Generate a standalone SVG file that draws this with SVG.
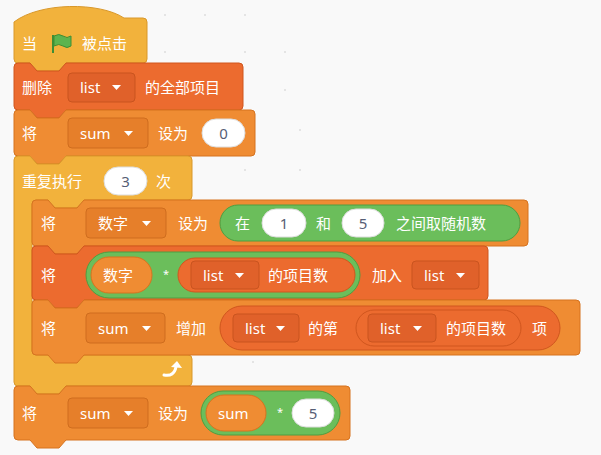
<svg xmlns="http://www.w3.org/2000/svg" width="601" height="455" viewBox="0 0 601 455">
<style>
text{font-family:"Noto Sans","Noto Sans CJK SC",sans-serif;font-size:15px;fill:#fff;dominant-baseline:central}
.ctl{fill:#F2B23C;stroke:#D9982A;stroke-width:1}
.lst{fill:#EC6B2F;stroke:#D0561E;stroke-width:1}
.var{fill:#EF8C33;stroke:#D6731F;stroke-width:1}
.op{fill:#6BBE5B;stroke:#4E9E42;stroke-width:1}
.ddl{fill:#E0612A;stroke:#C9541F}
.ddv{fill:#E67F2A;stroke:#CF6D1E}
.wh{fill:#fff;stroke:#ddd}
.num{fill:#575E75;text-anchor:middle}
.dot{fill:#ddd}
</style>
<defs><path id="tri" d="M0,0 h9 l-4.5,5 z" fill="#fff"/></defs>
<rect width="601" height="455" fill="#F9F9F9"/>
<g id="dots" class="dot"><circle cx="165" cy="15" r="1"/><circle cx="205" cy="15" r="1"/><circle cx="245" cy="15" r="1"/><circle cx="165" cy="52" r="1"/><circle cx="245" cy="52" r="1"/><circle cx="285" cy="52" r="1"/><circle cx="285" cy="90" r="1"/><circle cx="300" cy="130" r="1"/><circle cx="245" cy="170" r="1"/><circle cx="300" cy="170" r="1"/><circle cx="253" cy="362" r="1"/></g>
<g id="connectors"></g>
<g id="hat">
<path class="ctl" d="M14,22 C40,2 100,2 124,18 H143 a4,4 0 0 1 4,4 V59 a4,4 0 0 1 -4,4 H66 l-7,8 h-22 l-7,-8 H18 a4,4 0 0 1 -4,-4 Z"/>
<text x="22" y="43">当</text>
<path d="M53,35 v18" stroke="#3E8E34" stroke-width="2"/>
<path d="M54,36 q5,-3 9,0 t8,0 v10 q-4,3 -8,0 t-9,0 z" fill="#5DB44E" stroke="#3E8E34"/>
<text x="82" y="43">被点击</text>
</g>
<g id="delete">
<path class="lst" d="M14,67 a4,4 0 0 1 4,-4 H30 l7,8 h22 l7,-8 H239 a4,4 0 0 1 4,4 V106 a4,4 0 0 1 -4,4 H66 l-7,8 h-22 l-7,-8 H18 a4,4 0 0 1 -4,-4 Z"/>
<text x="22" y="87">删除</text>
<rect class="ddl" x="68" y="73" width="67" height="29" rx="4"/>
<text x="80" y="87">list</text><use href="#tri" x="112" y="85"/>
<text x="145" y="87">的全部项目</text>
</g>
<g id="setsum">
<path class="var" d="M14,114 a4,4 0 0 1 4,-4 H30 l7,8 h22 l7,-8 H251 a4,4 0 0 1 4,4 V152 a4,4 0 0 1 -4,4 H66 l-7,8 h-22 l-7,-8 H18 a4,4 0 0 1 -4,-4 Z"/>
<text x="22" y="133">将</text>
<rect class="ddv" x="68" y="118" width="80" height="30" rx="4"/>
<text x="80" y="133">sum</text><use href="#tri" x="124" y="131"/>
<text x="158" y="133">设为</text>
<rect class="wh" x="202" y="119" width="43" height="28" rx="14"/>
<text class="num" x="223.5" y="133">0</text>
</g>
<g id="repeat">
<path class="ctl" d="M14,160 a4,4 0 0 1 4,-4 H30 l7,8 h22 l7,-8 H188 a4,4 0 0 1 4,4 V196 a4,4 0 0 1 -4,4 H84 l-7,8 h-22 l-7,-8 H36 a4,4 0 0 0 -4,4 V351 a4,4 0 0 0 4,4 H188 a4,4 0 0 1 4,4 V382 a4,4 0 0 1 -4,4 H66 l-7,8 h-22 l-7,-8 H18 a4,4 0 0 1 -4,-4 Z"/>
<text x="22" y="181">重复执行</text>
<rect class="wh" x="104" y="167" width="43" height="28" rx="14"/>
<text class="num" x="125.5" y="181">3</text>
<text x="156" y="181">次</text>
<path d="M164,375 q10,2 12,-8" fill="none" stroke="#fff" stroke-width="3" stroke-linecap="round"/>
<path d="M171,367 l6,-6 l5,7 z" fill="#fff"/>
</g>
<g id="setrand">
<path class="var" d="M32,204 a4,4 0 0 1 4,-4 H48 l7,8 h22 l7,-8 H524 a4,4 0 0 1 4,4 V242 a4,4 0 0 1 -4,4 H84 l-7,8 h-22 l-7,-8 H36 a4,4 0 0 1 -4,-4 Z"/>
<text x="41" y="223">将</text>
<rect class="ddv" x="86" y="208" width="80" height="30" rx="4"/>
<text x="98" y="223">数字</text><use href="#tri" x="142" y="221"/>
<text x="178" y="223">设为</text>
<rect class="op" x="220" y="205" width="300" height="36" rx="18"/>
<text x="235" y="223">在</text>
<rect class="wh" x="262" y="209" width="44" height="28" rx="14"/>
<text class="num" x="284" y="223">1</text>
<text x="316" y="223">和</text>
<rect class="wh" x="342" y="209" width="42" height="28" rx="14"/>
<text class="num" x="363" y="223">5</text>
<text x="396" y="223">之间取随机数</text>
</g>
<g id="addlist">
<path class="lst" d="M32,250 a4,4 0 0 1 4,-4 H48 l7,8 h22 l7,-8 H484 a4,4 0 0 1 4,4 V296 a4,4 0 0 1 -4,4 H84 l-7,8 h-22 l-7,-8 H36 a4,4 0 0 1 -4,-4 Z"/>
<text x="41" y="275">将</text>
<rect class="op" x="86" y="252" width="274" height="46" rx="23" stroke-width="2"/>
<rect class="var" x="91" y="257" width="61" height="36" rx="18"/>
<text x="103" y="275">数字</text>
<text x="163" y="273" style="font-size:11px">*</text>
<rect class="lst" x="178" y="258" width="177" height="34" rx="17"/>
<rect class="ddl" x="191" y="261" width="68" height="28" rx="4"/>
<text x="203" y="275">list</text><use href="#tri" x="235" y="273"/>
<text x="268" y="275">的项目数</text>
<text x="372" y="275">加入</text>
<rect class="ddl" x="412" y="261" width="67" height="28" rx="4"/>
<text x="424" y="275">list</text><use href="#tri" x="456" y="273"/>
</g>
<g id="changesum">
<path class="var" d="M32,304 a4,4 0 0 1 4,-4 H48 l7,8 h22 l7,-8 H576 a4,4 0 0 1 4,4 V351 a4,4 0 0 1 -4,4 H84 l-7,8 h-22 l-7,-8 H36 a4,4 0 0 1 -4,-4 Z"/>
<text x="41" y="328">将</text>
<rect class="ddv" x="86" y="313" width="79" height="30" rx="4"/>
<text x="98" y="328">sum</text><use href="#tri" x="142" y="326"/>
<text x="176" y="328">增加</text>
<rect class="lst" x="220" y="306" width="340" height="44" rx="22"/>
<rect class="ddl" x="233" y="314" width="66" height="28" rx="4"/>
<text x="245" y="328">list</text><use href="#tri" x="276" y="326"/>
<text x="308" y="328">的第</text>
<rect class="lst" x="356" y="310" width="165" height="36" rx="18" stroke="#C9541F"/>
<rect class="ddl" x="368" y="314" width="68" height="28" rx="4"/>
<text x="380" y="328">list</text><use href="#tri" x="413" y="326"/>
<text x="446" y="328">的项目数</text>
<text x="532" y="328">项</text>
</g>
<g id="setsum2">
<path class="var" d="M14,390 a4,4 0 0 1 4,-4 H30 l7,8 h22 l7,-8 H346 a4,4 0 0 1 4,4 V436 a4,4 0 0 1 -4,4 H66 l-7,8 h-22 l-7,-8 H18 a4,4 0 0 1 -4,-4 Z"/>
<text x="22" y="413">将</text>
<rect class="ddv" x="68" y="398" width="80" height="30" rx="4"/>
<text x="80" y="413">sum</text><use href="#tri" x="124" y="411"/>
<text x="158" y="413">设为</text>
<rect class="op" x="201" y="391" width="139" height="44" rx="22" stroke-width="2"/>
<rect class="var" x="206" y="395" width="60" height="36" rx="18"/>
<text x="218" y="413">sum</text>
<text x="277" y="411" style="font-size:11px">*</text>
<rect class="wh" x="292" y="399" width="42" height="28" rx="14"/>
<text class="num" x="313" y="413">5</text>
</g>
</svg>
